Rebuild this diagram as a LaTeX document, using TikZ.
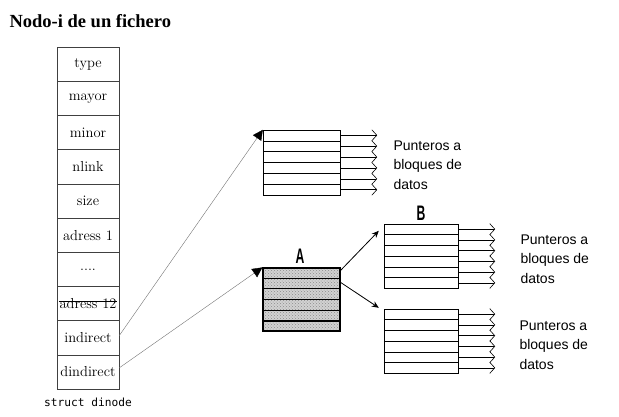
\documentclass[tikz,border=0pt]{standalone}
\usepackage{fontspec}
\newfontfamily\titlefont{Liberation Serif}
\newfontfamily\labelfont{Liberation Sans}
\newfontfamily\monofont{DejaVu Sans Mono}
\usetikzlibrary{arrows.meta,patterns,calc}

\newcommand\fourdots{....}

\tikzset{
  field/.style={draw=black!75, minimum width=62pt, minimum height=34.2pt,
    inner sep=0pt, font=\fontsize{14.5}{16}\selectfont},
  ptrblock/.style={draw, minimum width=77pt, minimum height=65pt, inner sep=0pt},
  outptr/.style={semithick, -{Straight Barb[length=5pt,width=11pt]}},
  inptr/.style={black!55, -{Triangle[black,length=10pt,width=10pt]}},
  subptr/.style={thick, -{Stealth[length=7pt,width=6pt]}},
  ptrtext/.style={anchor=west, align=left, font=\labelfont\fontsize{14}{19.5}\selectfont},
  blocklabel/.style={font=\labelfont\bfseries\fontsize{21}{22}\selectfont}
}

% rows and outgoing pointers of a block
\newcommand\ptrrows[2]{%
  \foreach \k in {1,...,5}
    \draw[#2] ($(#1.north west)!\k/6!(#1.south west)$) -- ($(#1.north east)!\k/6!(#1.south east)$);
}
\newcommand\ptrout[1]{%
  \foreach \k in {1,...,6}
    \draw[outptr] ($(#1.north east)!{(\k-0.5)/6}!(#1.south east)$) -- ++(37,0);
}

\begin{document}
\begin{tikzpicture}[x=1pt,y=-1pt]
  \useasboundingbox (0,0) rectangle (619,416);

  \node[anchor=west, font=\titlefont\bfseries\fontsize{18.5}{22}\selectfont] (title) at (6,21) {Nodo-i de un fichero};

  % struct dinode
  \foreach \name/\txt [count=\i] in {type/type, mayor/mayor, minor/minor, nlink/nlink,
      size/size, adr1/adress 1, dots/\fourdots, adr12/adress 12, ind/indirect, dind/dindirect}
    \node[field] (\name) at (88,{47+34.2*(\i-0.5)}) {\txt};
  % struck-out entry
  \node[inner sep=0pt, font=\fontsize{14.5}{16}\selectfont] (adr12txt) at (adr12) {\phantom{adress 12}};
  \draw ([yshift=2pt]adr12txt.west) -- ([yshift=2pt]adr12txt.east);
  \node[font=\monofont\fontsize{11.2}{13}\selectfont] (sname) at (88,402) {struct dinode};

  % block of pointers (indirect)
  \node[ptrblock] (top) at (301.5,162.5) {};
  \ptrrows{top}{}
  \ptrout{top}
  \node[ptrtext] (toptxt) at (390,165) {Punteros a\\bloques de\\datos};

  % block A (double indirect)
  \node[ptrblock, minimum height=63pt, very thick, preaction={fill=gray!35},
    pattern=crosshatch dots, pattern color=gray!90] (A) at (301.5,299.5) {};
  \ptrrows{A}{very thick}
  \node[blocklabel] (Alab) at (300,256) {\scalebox{0.58}[1]{A}};

  % block B
  \node[ptrblock, minimum width=74pt, minimum height=64pt] (B) at (421,256) {};
  \ptrrows{B}{}
  \ptrout{B}
  \node[blocklabel] (Blab) at (421,213) {\scalebox{0.58}[1]{B}};
  \node[ptrtext] (Btxt) at (517,259) {Punteros a\\bloques de\\datos};

  % block C
  \node[ptrblock, minimum width=74pt, minimum height=64pt] (C) at (421,341) {};
  \ptrrows{C}{}
  \ptrout{C}
  \node[ptrtext] (Ctxt) at (516,345) {Punteros a\\bloques de\\datos};

  % connectors
  \draw[inptr] ([yshift=2pt]ind.east) -- (top.north west);
  \draw[inptr] ([yshift=4pt]dind.east) -- (A.north west);
  \draw[subptr] ([yshift=-3pt]A.north east) -- ([xshift=-5pt,yshift=-7pt]B.north west);
  \draw[subptr] ([yshift=-15pt]A.north east) -- ([xshift=-5pt,yshift=1pt]C.north west);
\end{tikzpicture}
\end{document}
